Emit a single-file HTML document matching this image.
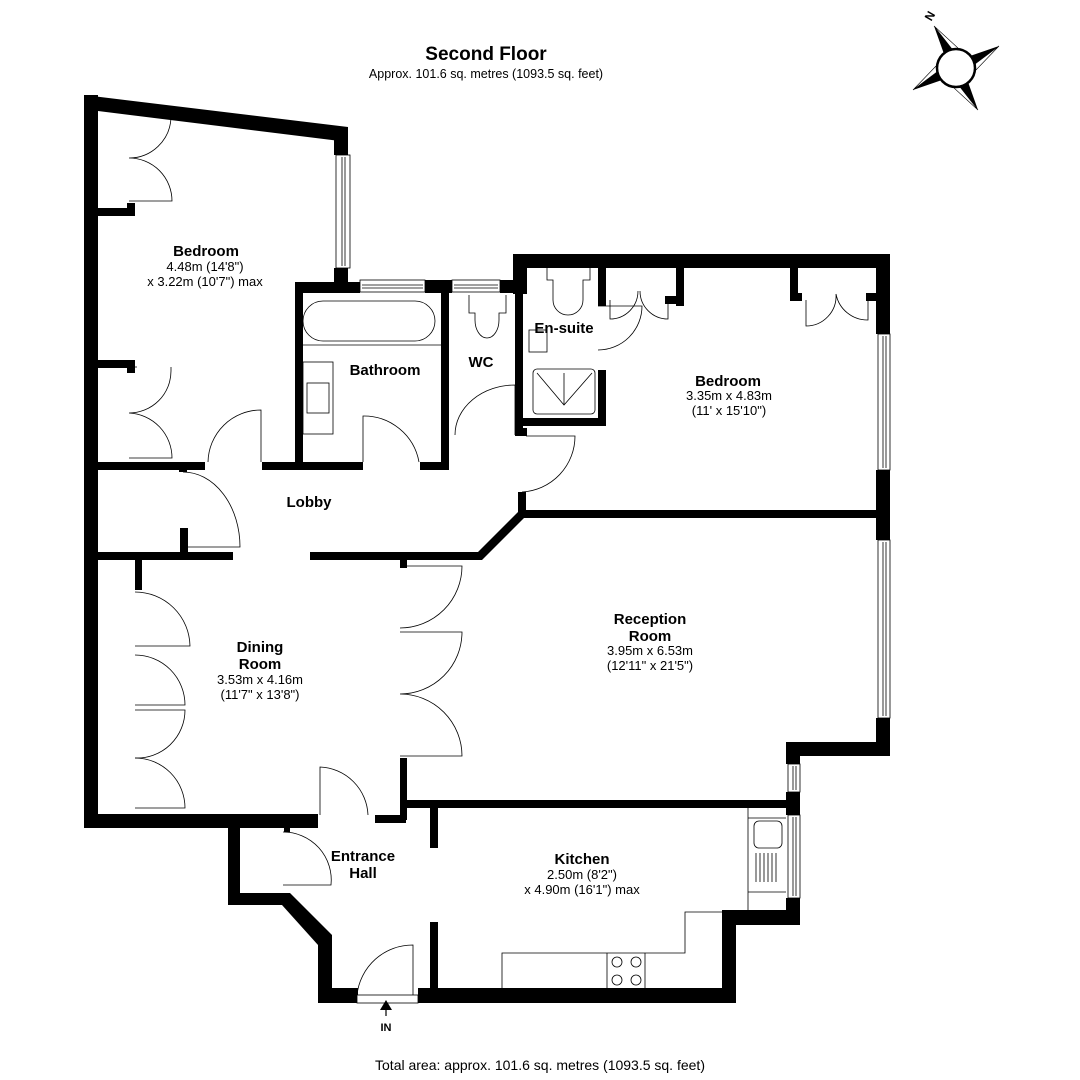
<!DOCTYPE html>
<html><head><meta charset="utf-8"><style>
html,body{margin:0;padding:0;background:#fff;}
svg{display:block}
text{font-family:"Liberation Sans",Arial,sans-serif;fill:#000}
.b{font-weight:bold;font-size:15px}
.s{font-size:13px}
</style></head><body>
<svg width="1080" height="1080" viewBox="0 0 1080 1080" xmlns="http://www.w3.org/2000/svg">
<rect width="1080" height="1080" fill="#fff"/>
<text x="486" y="60" text-anchor="middle" style="font-weight:bold;font-size:19px">Second Floor</text>
<text x="486" y="78" text-anchor="middle" class="s" style="font-size:12.5px">Approx. 101.6 sq. metres (1093.5 sq. feet)</text>
<text x="540" y="1070" text-anchor="middle" style="font-size:14px">Total area: approx. 101.6 sq. metres (1093.5 sq. feet)</text>

<g transform="translate(956,68)">
<polygon points="-22,-42 -4,-19 -12,-14" fill="#000"/>
<polygon points="43,-22 19,-4 14,-12" fill="#000"/>
<polygon points="22,42 4,19 12,14" fill="#000"/>
<polygon points="-43,22 -19,4 -14,12" fill="#000"/>
<polygon points="-22,-42 -4,-19 2,-20" fill="#fff" stroke="#000" stroke-width="0.6"/>
<polygon points="43,-22 19,-4 20,2" fill="#fff" stroke="#000" stroke-width="0.6"/>
<polygon points="22,42 4,19 -2,20" fill="#fff" stroke="#000" stroke-width="0.6"/>
<polygon points="-43,22 -19,4 -20,-2" fill="#fff" stroke="#000" stroke-width="0.6"/>
<circle r="19" fill="#fff" stroke="#000" stroke-width="2.5"/>
<text x="-26" y="-48" transform="rotate(-60 -26 -52)" style="font-weight:bold;font-size:12px" text-anchor="middle">N</text>
</g>

<g fill="#000">
<rect x="84" y="95" width="14" height="733"/>
<polygon points="84,95 348,127 348,142 98,111"/>
<rect x="334" y="128" width="14" height="27"/>
<rect x="334" y="268" width="14" height="25"/>
<rect x="295" y="282" width="65" height="11"/>
<rect x="425" y="280" width="27" height="13"/>
<rect x="500" y="280" width="20" height="13"/>
<rect x="295" y="282" width="8" height="188"/>
<rect x="441" y="290" width="8" height="180"/>
<rect x="513" y="254" width="14" height="40"/>
<rect x="515" y="280" width="8" height="155"/>
<rect x="515" y="254" width="375" height="14"/>
<rect x="876" y="254" width="14" height="80"/>
<rect x="876" y="470" width="14" height="70"/>
<rect x="876" y="718" width="14" height="38"/>
<rect x="786" y="742" width="104" height="14"/>
<rect x="786" y="742" width="14" height="22"/>
<rect x="786" y="792" width="14" height="23"/>
<rect x="786" y="898" width="14" height="27"/>
<rect x="730" y="910" width="70" height="15"/>
<rect x="722" y="910" width="14" height="93"/>
<rect x="418" y="988" width="318" height="15"/>
<rect x="318" y="988" width="40" height="15"/>
<rect x="318" y="935" width="14" height="68"/>
<polygon points="290,893 332,935 318,945 282,905"/>
<rect x="228" y="893" width="62" height="12"/>
<rect x="228" y="820" width="12" height="85"/>
<rect x="228" y="820" width="82" height="8"/>
<rect x="284" y="820" width="6" height="12"/>
<rect x="598" y="268" width="8" height="38"/>
<rect x="598" y="370" width="8" height="55"/>
<rect x="520" y="418" width="86" height="8"/>
<rect x="515" y="428" width="12" height="8"/>
<rect x="676" y="268" width="8" height="38"/>
<rect x="665" y="296" width="19" height="8"/>
<rect x="790" y="268" width="8" height="32"/>
<rect x="790" y="293" width="12" height="8"/>
<rect x="866" y="293" width="12" height="8"/>
<rect x="98" y="462" width="107" height="8"/>
<rect x="262" y="462" width="101" height="8"/>
<rect x="420" y="462" width="29" height="8"/>
<rect x="98" y="208" width="37" height="8"/>
<rect x="127" y="203" width="8" height="13"/>
<rect x="98" y="360" width="37" height="8"/>
<rect x="127" y="360" width="8" height="13"/>
<rect x="179" y="462" width="8" height="10"/>
<rect x="518" y="492" width="8" height="22"/>
<rect x="98" y="552" width="135" height="8"/>
<rect x="180" y="528" width="8" height="30"/>
<rect x="310" y="552" width="172" height="8"/>
<polygon points="478,552 520,510 526,516 482,560"/>
<rect x="520" y="510" width="366" height="8"/>
<rect x="135" y="560" width="7" height="30"/>
<rect x="400" y="560" width="7" height="8"/>
<rect x="400" y="758" width="7" height="62"/>
<rect x="406" y="800" width="394" height="8"/>
<rect x="84" y="814" width="234" height="14"/>
<rect x="375" y="815" width="31" height="8"/>
<rect x="430" y="808" width="8" height="40"/>
<rect x="430" y="922" width="8" height="70"/>
</g>

<g fill="#fff" stroke="#000" stroke-width="0.8">
<rect x="336" y="155" width="14" height="113"/><line x1="342" y1="157" x2="342" y2="266"/><line x1="345" y1="157" x2="345" y2="266"/>
<rect x="360" y="280" width="65" height="12"/><line x1="362" y1="285" x2="423" y2="285"/><line x1="362" y1="288" x2="423" y2="288"/>
<rect x="452" y="280" width="48" height="12"/><line x1="454" y1="285" x2="498" y2="285"/><line x1="454" y1="288" x2="498" y2="288"/>
<rect x="878" y="334" width="12" height="136"/><line x1="883" y1="336" x2="883" y2="468"/><line x1="886" y1="336" x2="886" y2="468"/>
<rect x="878" y="540" width="12" height="178"/><line x1="883" y1="542" x2="883" y2="716"/><line x1="886" y1="542" x2="886" y2="716"/>
<rect x="788" y="764" width="12" height="28"/><line x1="793" y1="766" x2="793" y2="790"/><line x1="796" y1="766" x2="796" y2="790"/>
<rect x="788" y="815" width="12" height="83"/><line x1="793" y1="817" x2="793" y2="896"/><line x1="796" y1="817" x2="796" y2="896"/>
<rect x="357" y="995" width="61" height="8"/>
</g>

<g fill="none" stroke="#000" stroke-width="0.8">
<path d="M129,114 H137 M171,114 V118 A42,42 0 0 1 129,158 A43,43 0 0 1 172,201 H129" transform="translate(300,0) scale(-1,1) translate(-300,0) translate(-299,0) scale(1,1)" style="display:none"/>
<path d="M129,114 H137 M171,114 V118 A42,42 0 0 1 129,158 M129,158 A43,43 0 0 1 172,201 H129"/>
<path d="M129,367 H137 M171,367 V371 A42,42 0 0 1 129,413 M129,413 A45,45 0 0 1 172,458 H129"/>
<path d="M208,462 A53,53 0 0 1 261,410 V462"/>
<path d="M363,462 V416 A56,56 0 0 1 419,462"/>
<path d="M515,385 V435 M455,435 A60,50 0 0 1 515,385"/>
<path d="M526,436 H575 A56,56 0 0 1 522,492"/>
<path d="M183,472 A57,75 0 0 1 240,547 H183"/>
<path d="M598,306 H642 A44,44 0 0 1 598,350"/>
<path d="M547,268 V280 H553 V300 A15,15 0 0 0 583,300 V280 H590 V268"/>
<rect x="529" y="330" width="18" height="22"/>
<rect x="533" y="369" width="62" height="45" rx="4"/>
<path d="M537,373 L564,405 L592,373 M564,373 V405"/>
<path d="M610,300 V319 A28,28 0 0 0 638,291 M640,291 A28,28 0 0 0 668,319 V300"/>
<path d="M806,300 V326 A30,30 0 0 0 836,294 M836,294 A32,32 0 0 0 868,320 V300"/>
<rect x="303" y="301" width="132" height="40" rx="20"/>
<line x1="303" y1="345" x2="441" y2="345"/>
<rect x="303" y="362" width="30" height="72"/>
<rect x="307" y="383" width="22" height="30"/>
<path d="M469,295 V313 H475 V320 A12,18 0 0 0 499,320 V313 H506 V295"/>
<path d="M135,592 A55,55 0 0 1 190,646 H135"/>
<path d="M135,655 A50,50 0 0 1 185,705 H135"/>
<path d="M135,710 H185 A48,48 0 0 1 135,758"/>
<path d="M135,758 A50,50 0 0 1 185,808 H135"/>
<path d="M400,566 H462 A62,62 0 0 1 400,628 M400,632 H462 A62,62 0 0 1 400,694 M400,694 A62,62 0 0 1 462,756 H400"/>
<path d="M320,815 V767 A50,50 0 0 1 368,815"/>
<path d="M283,832 A48,48 0 0 1 331,885 H283"/>
<path d="M357,995 A56,56 0 0 1 413,945 V995"/>
<path d="M502,988 V953 H685 V912 H722 M607,953 V988 M645,953 V988"/>
<circle cx="617" cy="962" r="5"/><circle cx="636" cy="962" r="5"/>
<circle cx="617" cy="980" r="5"/><circle cx="636" cy="980" r="5"/>
<path d="M748,808 V910 M748,818 H786 M748,892 H786"/>
<rect x="754" y="821" width="28" height="27" rx="5"/>
<path d="M756,853 V882 M760,853 V882 M764,853 V882 M768,853 V882 M772,853 V882 M776,853 V882"/>
</g>
<polygon points="380,1010 386,1000 392,1010" fill="#000"/>
<line x1="386" y1="1008" x2="386" y2="1016" stroke="#000" stroke-width="1.2"/>
<text x="386" y="1031" text-anchor="middle" style="font-weight:bold;font-size:11px">IN</text>

<g text-anchor="middle">
<text x="206" y="256" class="b">Bedroom</text>
<text x="205" y="271" class="s">4.48m (14'8")</text>
<text x="205" y="286" class="s">x 3.22m (10'7") max</text>
<text x="385" y="375" class="b">Bathroom</text>
<text x="481" y="367" class="b">WC</text>
<text x="564" y="333" class="b">En-suite</text>
<text x="728" y="386" class="b">Bedroom</text>
<text x="729" y="400" class="s">3.35m x 4.83m</text>
<text x="729" y="415" class="s">(11' x 15'10")</text>
<text x="309" y="507" class="b">Lobby</text>
<text x="650" y="624" class="b">Reception</text>
<text x="650" y="641" class="b">Room</text>
<text x="650" y="655" class="s">3.95m x 6.53m</text>
<text x="650" y="670" class="s">(12'11" x 21'5")</text>
<text x="260" y="652" class="b">Dining</text>
<text x="260" y="669" class="b">Room</text>
<text x="260" y="684" class="s">3.53m x 4.16m</text>
<text x="260" y="699" class="s">(11'7" x 13'8")</text>
<text x="363" y="861" class="b">Entrance</text>
<text x="363" y="878" class="b">Hall</text>
<text x="582" y="864" class="b">Kitchen</text>
<text x="582" y="879" class="s">2.50m (8'2")</text>
<text x="582" y="894" class="s">x 4.90m (16'1") max</text>
</g>
</svg>
</body></html>
